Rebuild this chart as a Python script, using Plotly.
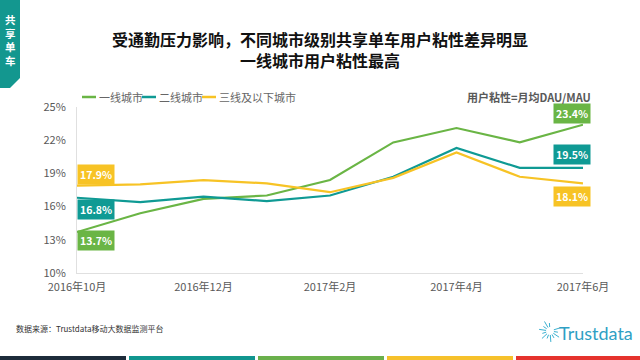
import plotly.graph_objects as go
import math

months = ["2016年10月", "2016年11月", "2016年12月", "2017年1月", "2017年2月",
          "2017年3月", "2017年4月", "2017年5月", "2017年6月"]
tier1 = [13.7, 15.4, 16.7, 17.0, 18.4, 21.8, 23.1, 21.8, 23.4]
tier2 = [16.8, 16.4, 16.9, 16.5, 17.0, 18.7, 21.3, 19.5, 19.5]
tier3 = [17.9, 18.0, 18.4, 18.1, 17.3, 18.6, 20.9, 18.7, 18.1]
series_names = ["一线城市", "二线城市", "三线及以下城市"]
colors = ["#6ab545", "#0f9a94", "#f7c325"]
y_ticks = [10, 13, 16, 19, 22, 25]
tick_months = months[::2]

FONT = "Noto Sans CJK SC"
W, H = 640, 360
L, R, T, B = 77, 57, 107, 87
PW, PH = W - L - R, H - T - B


def px(x):
    return (x - L) / PW


def py(y):
    return (H - B - y) / PH


fig = go.Figure()
for name, vals, col in zip(series_names, [tier1, tier2, tier3], colors):
    fig.add_trace(go.Scatter(x=months, y=vals, mode="lines", name=name,
                             line=dict(color=col, width=2.2), showlegend=False))

shapes = []
annotations = []

# value labels
def label(xv, yv, col, xanchor, yanchor, xshift=0, yshift=0):
    annotations.append(dict(x=xv, y=yv, xref="x", yref="y", text="<b>%.1f%%</b>" % yv,
                            showarrow=False, xanchor=xanchor, yanchor=yanchor,
                            xshift=xshift, yshift=yshift, bgcolor=col, borderpad=2,
                            font=dict(family=FONT, size=10.5, color="white")))

label(months[0], tier3[0], colors[2], "left", "bottom", 0, 1)
label(months[0], tier2[0], colors[1], "left", "top", 0, -1)
label(months[0], tier1[0], colors[0], "left", "top", 0, 2)
label(months[-1], tier1[-1], colors[0], "right", "bottom", 8, 1)
label(months[-1], tier2[-1], colors[1], "right", "bottom", 8, 3)
label(months[-1], tier3[-1], colors[2], "right", "top", 8, -3)

# manual legend
lx = [82, 142, 202]
for x0, name, col in zip(lx, series_names, colors):
    shapes.append(dict(type="line", xref="paper", yref="paper", x0=px(x0), x1=px(x0 + 14),
                       y0=py(97), y1=py(97), line=dict(color=col, width=2.5)))
    annotations.append(dict(x=px(x0 + 15), y=py(97), xref="paper", yref="paper", text=name,
                            showarrow=False, xanchor="left", yanchor="middle",
                            font=dict(family=FONT, size=11, color="#666666")))

annotations.append(dict(x=px(593), y=py(97), xref="paper", yref="paper",
                        text="<b>用户粘性=月均DAU/MAU</b>", showarrow=False,
                        xanchor="right", yanchor="middle",
                        font=dict(family=FONT, size=11, color="#595959")))

# title
annotations.append(dict(x=px(320), y=py(49), xref="paper", yref="paper",
                        text="<b>受通勤压力影响，不同城市级别共享单车用户粘性差异明显<br>一线城市用户粘性最高</b>",
                        showarrow=False, xanchor="center", yanchor="middle", align="center",
                        font=dict(family=FONT, size=16, color="#111111")))

# top-left tag
shapes.append(dict(type="path", xref="paper", yref="paper",
                   path="M %f %f L %f %f L %f %f L %f %f L %f %f Z" % (
                       px(0), py(0), px(20), py(0), px(20), py(78), px(10), py(88), px(0), py(88)),
                   fillcolor="#13978f", line=dict(width=0)))
annotations.append(dict(x=px(10), y=py(40), xref="paper", yref="paper",
                        text="<b>共<br>享<br>单<br>车</b>",
                        showarrow=False, xanchor="center", yanchor="middle", align="center",
                        font=dict(family=FONT, size=10.5, color="white")))

# footer
annotations.append(dict(x=px(14), y=py(328), xref="paper", yref="paper",
                        text="数据来源：Trustdata移动大数据监测平台", showarrow=False,
                        xanchor="left", yanchor="middle",
                        font=dict(family=FONT, size=8, color="#333333")))
bar_cols = ["#1d2c3a", "#11968f", "#6ab04c", "#f6c12b", "#e5322d"]
for i, c in enumerate(bar_cols):
    shapes.append(dict(type="rect", xref="paper", yref="paper",
                       x0=px(i * 129), x1=px(i * 129 + 126), y0=py(360), y1=py(356),
                       fillcolor=c, line=dict(width=0)))

# logo
cx, cy = 550, 331
for k in range(14):
    a = 2 * math.pi * k / 14 + 0.3
    if 0.6 < (a % (2 * math.pi)) < 1.3:
        continue
    r0, r1 = 4, 11 if k % 2 == 0 else 8
    shapes.append(dict(type="line", xref="paper", yref="paper",
                       x0=px(cx + r0 * math.cos(a)), y0=py(cy - r0 * math.sin(a)),
                       x1=px(cx + r1 * math.cos(a)), y1=py(cy - r1 * math.sin(a)),
                       line=dict(color="#3ab0d0", width=1)))
annotations.append(dict(x=px(557), y=py(333), xref="paper", yref="paper", text="Trustdata",
                        showarrow=False, xanchor="left", yanchor="middle",
                        font=dict(family="Lato", size=18, color="#2f9fc4")))

fig.update_layout(
    width=W, height=H, margin=dict(l=L, r=R, t=T, b=B),
    paper_bgcolor="white", plot_bgcolor="white",
    shapes=shapes, annotations=annotations,
    xaxis=dict(type="category", tickmode="array", tickvals=tick_months, ticktext=tick_months,
               showgrid=False, showline=True, linecolor="#e0e0e0", linewidth=1,
               ticks="", ticklabelstandoff=4,
               tickfont=dict(family=FONT, size=11, color="#595959"),
               range=[0, len(months) - 1], fixedrange=True),
    yaxis=dict(range=[10, 25], tickmode="array", tickvals=y_ticks,
               ticktext=["%d%%" % v for v in y_ticks], showgrid=False, zeroline=False,
               showline=True, linecolor="#e0e0e0", linewidth=1, ticks="",
               ticklabelstandoff=8,
               tickfont=dict(family=FONT, size=11, color="#595959"), fixedrange=True),
    showlegend=False,
)
fig.write_html("out.html", config={"displayModeBar": False},
               post_script="document.body.style.margin='0';document.body.style.overflow='hidden';")
